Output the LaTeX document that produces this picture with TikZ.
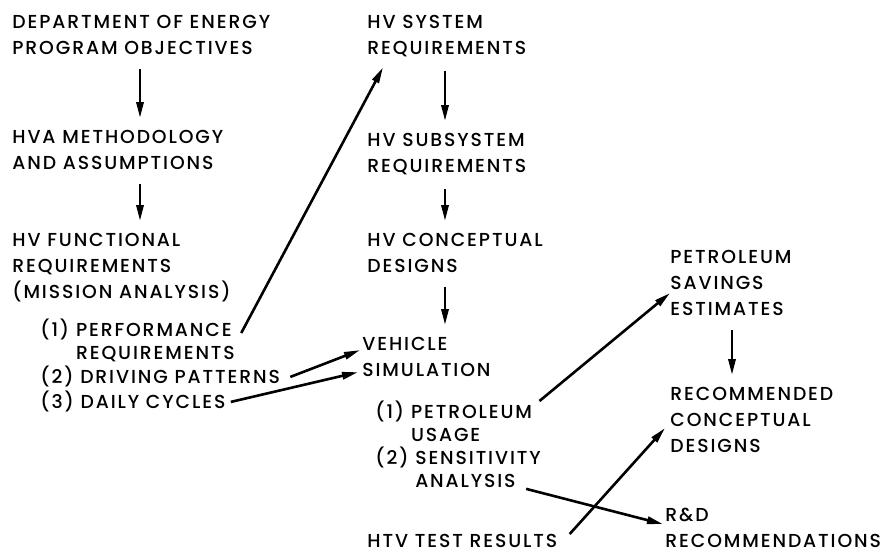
\documentclass[tikz,border=0pt]{standalone}
\usepackage{fontspec}
\setmainfont{Poppins}[UprightFont={* Medium},LetterSpace=10]
\usepackage{tikz}
\usetikzlibrary{arrows.meta}

\begin{document}
\begin{tikzpicture}[x=0.5pt,y=-0.5pt,
	blk/.style={anchor=north west,inner sep=0pt,align=left,font=\fontsize{9.4}{13}\selectfont},
	sub/.style={blk,font=\fontsize{9.4}{11.5}\selectfont},
	arr/.style={line width=1.3pt,-{Triangle[length=8pt,width=3.6pt]}},
	down/.style={arr,shorten <=7pt,shorten >=6pt}]
	\useasboundingbox (0,0) rectangle (890,552);
	\node[blk] (dept) at (12,15) {DEPARTMENT OF ENERGY\\PROGRAM OBJECTIVES};
	\node[blk] (hva) at (12,130) {HVA METHODOLOGY\\AND ASSUMPTIONS};
	\node[blk] (func) at (12,233) {HV FUNCTIONAL\\REQUIREMENTS\\(MISSION ANALYSIS)};
	\node[sub] (perf) at (40,319) {(1) PERFORMANCE\\\phantom{(1) }REQUIREMENTS};
	\node[sub] (drive) at (40,366) {(2) DRIVING PATTERNS};
	\node[sub] (daily) at (40,391) {(3) DAILY CYCLES};
	\node[blk] (hvsys) at (367,15) {HV SYSTEM\\REQUIREMENTS};
	\node[blk] (hvsub) at (367,133) {HV SUBSYSTEM\\REQUIREMENTS};
	\node[blk] (hvcon) at (367,233) {HV CONCEPTUAL\\DESIGNS};
	\node[blk] (vsim) at (362,337) {VEHICLE\\SIMULATION};
	\node[sub] (usage) at (375,401) {(1) PETROLEUM\\\phantom{(1) }USAGE};
	\node[sub] (sens) at (375,447) {(2) SENSITIVITY\\\phantom{(2) }ANALYSIS};
	\node[blk] (htv) at (367,534) {HTV TEST RESULTS};
	\node[blk] (psave) at (670,250) {PETROLEUM\\SAVINGS\\ESTIMATES};
	\node[blk] (rcd) at (670,387) {RECOMMENDED\\CONCEPTUAL\\DESIGNS};
	\node[blk] (rnd) at (665,508) {R\&D\\RECOMMENDATIONS};
	\draw[down] ([xshift=64pt]dept.south west) -- ([xshift=64pt]dept.south west |- hva.north);
	\draw[down] ([xshift=64pt]hva.south west) -- ([xshift=64pt]hva.south west |- func.north);
	\draw[down] ([xshift=39pt]hvsys.south west) -- ([xshift=39pt]hvsys.south west |- hvsub.north);
	\draw[down] ([xshift=39pt]hvsub.south west) -- ([xshift=39pt]hvsub.south west |- hvcon.north);
	\draw[down] ([xshift=39pt]hvcon.south west) -- ([xshift=39pt]hvcon.south west |- vsim.north);
	\draw[down] ([xshift=31pt]psave.south west) -- ([xshift=31pt]psave.south west |- rcd.north);
	\draw[arr] ([xshift=3pt,yshift=-7pt]perf.north east) -- ([xshift=8pt,yshift=-5pt]hvsys.south west);
	\draw[arr] ([xshift=5pt]drive.east) -- ([xshift=-1pt,yshift=3.5pt]vsim.west);
	\draw[arr] ([xshift=2.5pt]daily.east) -- ([xshift=-2pt,yshift=2.5pt]vsim.south west);
	\draw[arr] ([xshift=3.5pt]usage.north east) -- ([yshift=-5pt]psave.west);
	\draw[arr] ([xshift=6pt]htv.north east) -- ([xshift=-2.5pt,yshift=-4pt]rcd.west);
	\draw[arr] ([xshift=-7.5pt,yshift=1.5pt]sens.south east) -- ([xshift=-1pt,yshift=2pt]rnd.west);
\end{tikzpicture}
\end{document}
